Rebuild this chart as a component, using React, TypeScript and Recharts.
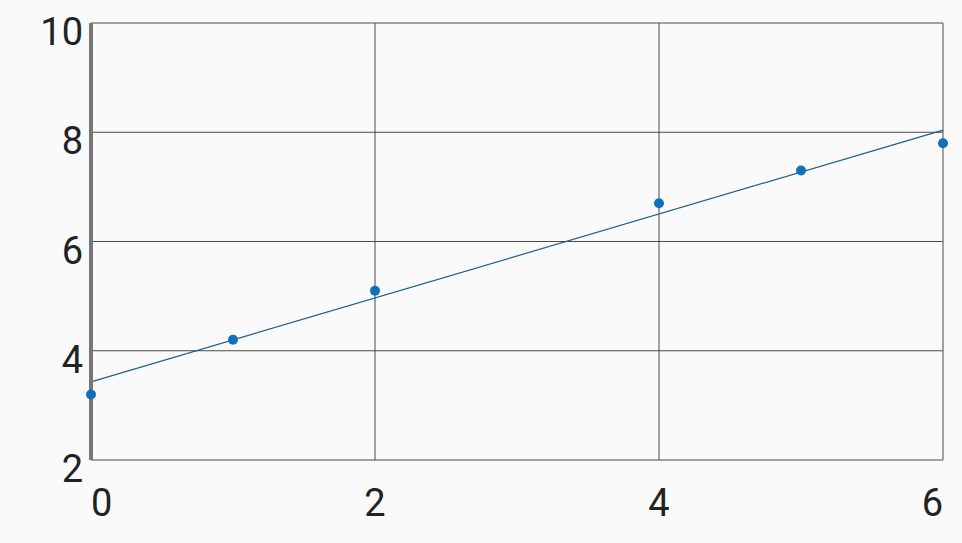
import { ComposedChart, XAxis, YAxis, CartesianGrid, Scatter, Line } from 'recharts';

const xValues = [0, 1, 2, 4, 5, 6];
const yValues = [3.2, 4.2, 5.1, 6.7, 7.3, 7.8];
const trendX = [0, 6];
const trendY = [3.43, 8.04];
const xTicks = [0, 2, 4, 6];
const yTicks = [2, 4, 6, 8, 10];

const points = xValues.map((x, i) => ({ x, y: yValues[i] }));
const trend = trendX.map((x, i) => ({ x, y: trendY[i] }));

const FONT = 'Roboto, "Noto Sans", sans-serif';

function XTick(props: any) {
  const { x, y, payload, index } = props;
  const last = index === xTicks.length - 1;
  const anchor = index === 0 ? 'start' : last ? 'end' : 'middle';
  return (
    <text x={x} y={y + 48} textAnchor={anchor} fill="#222" fontSize={38} fontFamily={FONT}>
      {payload.value}
    </text>
  );
}

function YTick(props: any) {
  const { y, payload } = props;
  return (
    <text x={83} y={y + 22} textAnchor="end" fill="#222" fontSize={38} fontFamily={FONT}>
      {payload.value}
    </text>
  );
}

export default function App() {
  return (
    <div style={{ position: 'absolute', top: 0, left: 0, width: 962, height: 543, background: '#fafafa' }}>
      <ComposedChart width={962} height={543} margin={{ top: 23, right: 19, bottom: 0, left: 0 }}>
        <CartesianGrid stroke="#4a4a4a" strokeWidth={1} />
        <XAxis
          type="number"
          dataKey="x"
          domain={[0, 6]}
          ticks={xTicks}
          axisLine={false}
          tickLine={false}
          height={83}
          tick={<XTick />}
          interval={0}
        />
        <YAxis
          type="number"
          dataKey="y"
          domain={[2, 10]}
          ticks={yTicks}
          axisLine={{ stroke: '#777', strokeWidth: 4 }}
          tickLine={false}
          width={91}
          tick={<YTick />}
          interval={0}
        />
        <Line
          data={trend}
          dataKey="y"
          type="linear"
          stroke="#1d5f8a"
          strokeWidth={1.2}
          dot={false}
          isAnimationActive={false}
        />
        <Scatter
          data={points}
          dataKey="y"
          fill="#1170b8"
          shape={(p: any) => <circle cx={p.cx} cy={p.cy} r={5} fill="#1170b8" />}
          isAnimationActive={false}
        />
      </ComposedChart>
    </div>
  );
}
